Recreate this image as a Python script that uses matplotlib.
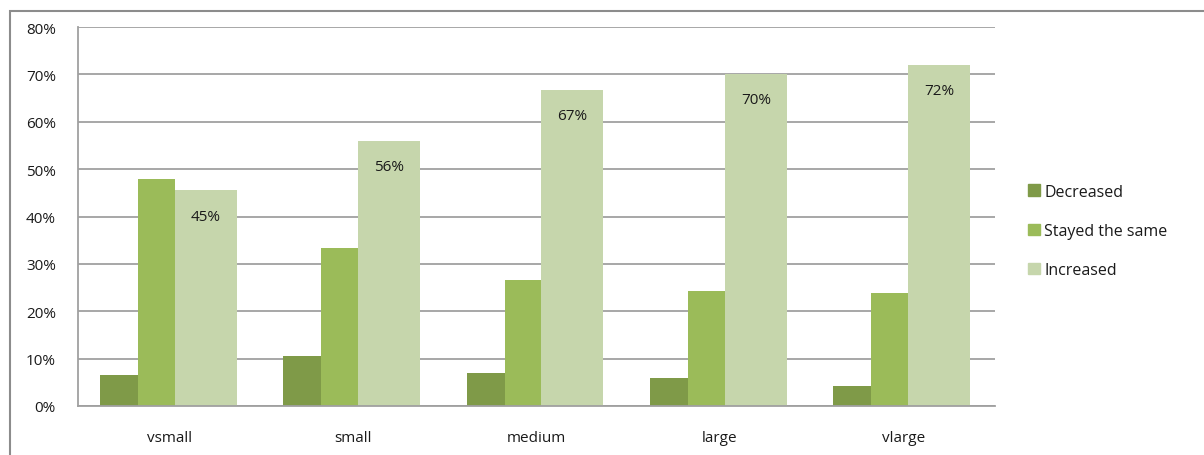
import numpy as np
import matplotlib.pyplot as plt
from matplotlib.patches import Rectangle, Patch

plt.rcParams['font.family'] = ['Open Sans', 'DejaVu Sans']

# data
categories = ['vsmall', 'small', 'medium', 'large', 'vlarge']
decreased = [6.5, 10.5, 7.0, 5.9, 4.2]
stayed = [47.9, 33.3, 26.6, 24.3, 23.8]
increased = [45.5, 55.9, 66.7, 70.0, 71.9]
inc_labels = ['45%', '56%', '67%', '70%', '72%']

c_dec = '#7f9a48'
c_same = '#9bbb59'
c_inc = '#c6d6ac'

W, H = 1204, 456
fig = plt.figure(figsize=(W / 100, H / 100), dpi=100)

# outer chart frame
fig.patches.append(Rectangle((10 / W, -0.05), 1.2, 1 - 12 / H + 0.05,
                             transform=fig.transFigure, fill=False,
                             edgecolor='#8c8c8c', linewidth=1.5))

ax = fig.add_axes([78 / W, 1 - 407 / H, (995 - 78) / W, (407 - 28) / H])

x = np.arange(len(categories))
ax.bar(x - 0.381, decreased, width=0.207, align='edge', color=c_dec)
ax.bar(x - 0.174, stayed, width=0.201, align='edge', color=c_same)
bars = ax.bar(x + 0.027, increased, width=0.338, align='edge', color=c_inc)

for b, lab in zip(bars, inc_labels):
    ax.text(b.get_x() + b.get_width() / 2, b.get_height() - 5.4, lab,
            ha='center', va='center', fontsize=11, color='#1a1a1a')

ax.set_xlim(-0.5, len(categories) - 0.5)
ax.set_ylim(0, 80)
ax.set_yticks(np.arange(0, 81, 10))
ax.set_yticklabels([f'{v}%' for v in range(0, 81, 10)])
ax.set_xticks(x)
ax.set_xticklabels(categories)
ax.tick_params(axis='both', length=0, labelsize=11, colors='#1a1a1a')
ax.tick_params(axis='y', pad=16)
ax.tick_params(axis='x', pad=17)

ax.yaxis.grid(True, color='#a0a0a0', linewidth=1.3)
ax.set_axisbelow(True)
for s in ['top', 'right']:
    ax.spines[s].set_visible(False)
for s in ['left', 'bottom']:
    ax.spines[s].set_color('#a0a0a0')
    ax.spines[s].set_linewidth(1.3)

handles = [Patch(color=c_dec, label='Decreased'),
           Patch(color=c_same, label='Stayed the same'),
           Patch(color=c_inc, label='Increased')]
fig.legend(handles=handles, loc='center left', bbox_to_anchor=(1022 / W, 1 - 232 / H),
           frameon=False, fontsize=11.5, handlelength=0.75, handleheight=0.75,
           handletextpad=0.25, labelspacing=1.45, borderaxespad=0,
           labelcolor='#1a1a1a')

fig.savefig('out.png', dpi=100)
